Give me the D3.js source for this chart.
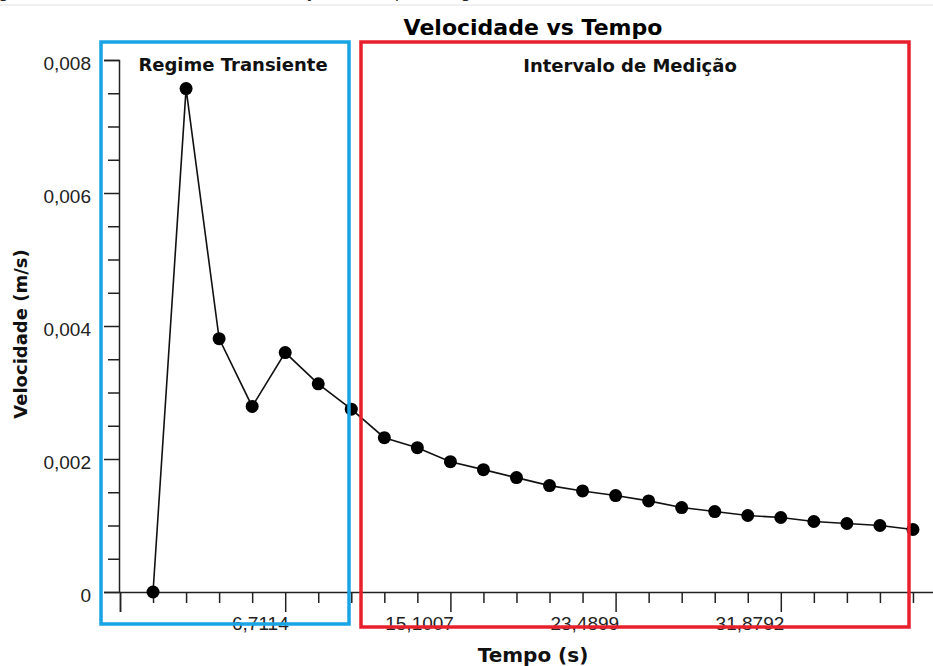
<!DOCTYPE html>
<html>
<head>
<meta charset="utf-8">
<script src="https://cdn.jsdelivr.net/npm/d3@7"></script>
<style>
  body { margin: 0; background: #fff; }
  svg { display: block; font-family: "DejaVu Sans", Verdana, sans-serif; }
  .axis path, .axis line { stroke: #222; stroke-width: 1.5; }
  .axis text { font-size: 19px; fill: #222; }
  .label { font-weight: bold; fill: #111; }
</style>
</head>
<body>
<div id="chart"></div>
<script>
// Velocidade vs Tempo
const step = 1.67786;
const tempo = [0, 1.6779, 3.3557, 5.0336, 6.7114, 8.3893, 10.0671, 11.7450,
    13.4228, 15.1007, 16.7785, 18.4564, 20.1342, 21.8121, 23.4899, 25.1678,
    26.8456, 28.5235, 30.2013, 31.8792, 33.5570, 35.2349, 36.9127, 38.5906];
const velocidade = [0, 0.00757, 0.00381, 0.00279, 0.00360, 0.00313, 0.00275,
    0.00232, 0.00217, 0.00196, 0.00184, 0.00172, 0.00160, 0.00152, 0.00145,
    0.00137, 0.00127, 0.00121, 0.00115, 0.00112, 0.00106, 0.00103, 0.00100,
    0.00094];
const xMajorTicks = [-1.67786, 6.7114, 15.1007, 23.4899, 31.8792, 40.2685];
const xTickLabels = ['', '6,7114', '15,1007', '23,4899', '31,8792', ''];
const yMajorTicks = [0, 0.002, 0.004, 0.006, 0.008];
const yTickLabels = ['0', '0,002', '0,004', '0,006', '0,008'];
const regioes = [
    { nome: 'Regime Transiente', cor: '#19a4e6' },
    { nome: 'Intervalo de Medição', cor: '#e8202c' }
];

const width = 933, height = 666;

const svg = d3.select('#chart').append('svg')
    .attr('width', width)
    .attr('height', height);

const x = d3.scaleLinear()
    .domain([xMajorTicks[0], xMajorTicks[xMajorTicks.length - 1]])
    .range([120, 946]);

const y = d3.scaleLinear()
    .domain([0, 0.008])
    .range([592, 60]);

// caption of the page above the figure, only its lowest strokes show
svg.append('text')
    .attr('x', -14)
    .attr('y', -2)
    .style('font-size', '16px')
    .style('fill', '#222')
    .text('Figura 4 – Gráfico da velocidade em função do tempo no regime de escoamento transiente');

svg.append('line')
    .attr('x1', 0).attr('x2', width)
    .attr('y1', 5).attr('y2', 5)
    .attr('stroke', '#f0f0f0')
    .attr('stroke-width', 2);

// minor ticks
const xMinor = d3.range(-1, 25).map(k => k * step)
    .filter(v => !xMajorTicks.some(t => Math.abs(t - v) < 0.01));
const yMinor = d3.range(0, 0.0080001, 0.0005)
    .filter(v => !yMajorTicks.some(t => Math.abs(t - v) < 1e-7));

svg.append('g')
    .attr('class', 'axis')
    .attr('transform', `translate(0,${y(0)})`)
    .call(d3.axisBottom(x).tickValues(xMinor).tickSize(11).tickFormat(''))
    .call(g => g.select('.domain').remove());

svg.append('g')
    .attr('class', 'axis')
    .attr('transform', `translate(0,${y(0)})`)
    .call(d3.axisBottom(x).tickValues(xMajorTicks).tickSizeOuter(0).tickSize(20)
        .tickFormat((d, i) => xTickLabels[i]))
    .call(g => g.selectAll('text')
        .attr('text-anchor', 'end')
        .attr('x', 3)
        .attr('y', 38)
        .attr('dy', 0));

svg.append('g')
    .attr('class', 'axis')
    .attr('transform', `translate(${x.range()[0] - 1},0)`)
    .call(d3.axisLeft(y).tickValues(yMinor).tickSize(11).tickFormat(''))
    .call(g => g.select('.domain').remove());

svg.append('g')
    .attr('class', 'axis')
    .attr('transform', `translate(${x.range()[0] - 1},0)`)
    .call(d3.axisLeft(y).tickValues(yMajorTicks).tickSizeOuter(0).tickSize(15)
        .tickPadding(13)
        .tickFormat((d, i) => yTickLabels[i]))
    .call(g => g.selectAll('text').attr('dy', '0.48em'));

// series
const pts = tempo.map((t, i) => ({ t: t, v: velocidade[i] }));

svg.append('path')
    .datum(pts)
    .attr('fill', 'none')
    .attr('stroke', '#111')
    .attr('stroke-width', 1.6)
    .attr('d', d3.line().x(d => x(d.t)).y(d => y(d.v)));

svg.append('g')
    .selectAll('circle')
    .data(pts)
    .enter().append('circle')
    .attr('cx', d => x(d.t))
    .attr('cy', d => y(d.v))
    .attr('r', 6.5)
    .attr('fill', '#000');

// region boxes
const boxes = [
    { x0: 101, y0: 42, x1: 349, y1: 624 },
    { x0: 361, y0: 42, x1: 909, y1: 627 }
];

svg.append('g')
    .selectAll('rect')
    .data(boxes)
    .enter().append('rect')
    .attr('x', d => d.x0)
    .attr('y', d => d.y0)
    .attr('width', d => d.x1 - d.x0)
    .attr('height', d => d.y1 - d.y0)
    .attr('fill', 'none')
    .attr('stroke', (d, i) => regioes[i].cor)
    .attr('stroke-width', 3.5);

svg.append('text')
    .attr('class', 'label')
    .attr('x', 233)
    .attr('y', 71)
    .attr('text-anchor', 'middle')
    .style('font-size', '18px')
    .text(regioes[0].nome);

svg.append('text')
    .attr('class', 'label')
    .attr('x', 630)
    .attr('y', 72)
    .attr('text-anchor', 'middle')
    .style('font-size', '18px')
    .text(regioes[1].nome);

// titles
svg.append('text')
    .attr('class', 'label')
    .attr('x', 533)
    .attr('y', 35)
    .attr('text-anchor', 'middle')
    .style('font-size', '22px')
    .style('fill', '#000')
    .text('Velocidade vs Tempo');

svg.append('text')
    .attr('class', 'label')
    .attr('x', 533)
    .attr('y', 662)
    .attr('text-anchor', 'middle')
    .style('font-size', '20px')
    .text('Tempo (s)');

svg.append('text')
    .attr('class', 'label')
    .attr('transform', 'translate(27,334) rotate(-90)')
    .attr('text-anchor', 'middle')
    .style('font-size', '18px')
    .text('Velocidade (m/s)');
</script>
</body>
</html>
